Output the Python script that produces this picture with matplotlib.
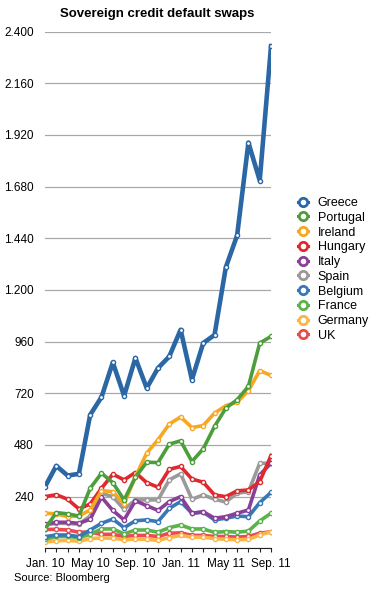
import matplotlib
matplotlib.use("Agg")
import matplotlib.pyplot as plt
from matplotlib.ticker import FuncFormatter, MultipleLocator
from matplotlib.lines import Line2D

plt.rcParams['font.family'] = ['Liberation Sans', 'DejaVu Sans']

# monthly, Jan. 10 .. Sep. 11
months = ["Jan. 10", "Feb. 10", "Mar. 10", "Apr. 10", "May 10", "Jun. 10", "Jul. 10",
          "Aug. 10", "Sep. 10", "Oct. 10", "Nov. 10", "Dec. 10", "Jan. 11", "Feb. 11",
          "Mar. 11", "Apr. 11", "May 11", "Jun. 11", "Jul. 11", "Aug. 11", "Sep. 11"]

greece   = [286, 383, 338, 346, 620, 702, 863, 708, 884, 744, 837, 891, 1015, 783,
            953, 991, 1305, 1453, 1884, 1708, 2332]
portugal = [90, 166, 160, 150, 279, 349, 305, 225, 330, 400, 398, 484, 499, 403,
            462, 566, 651, 690, 752, 953, 984]
ireland  = [163, 160, 147, 150, 178, 268, 263, 206, 333, 442, 504, 577, 610, 561,
            570, 628, 662, 679, 732, 825, 803]
hungary  = [240, 249, 228, 183, 206, 279, 344, 318, 352, 305, 284, 367, 380, 322,
            307, 248, 240, 267, 271, 310, 431]
italy    = [113, 121, 121, 116, 135, 238, 176, 132, 221, 198, 176, 217, 240, 163,
            170, 140, 147, 163, 178, 341, 395]
spain    = [108, 116, 116, 112, 150, 255, 240, 181, 225, 225, 225, 318, 346, 228,
            248, 228, 215, 256, 263, 395, 395]
belgium  = [54, 62, 62, 54, 85, 116, 136, 96, 128, 132, 124, 186, 217, 163,
            168, 132, 140, 150, 147, 212, 260]
france   = [42, 55, 55, 50, 65, 90, 90, 67, 85, 85, 75, 96, 108, 90,
            90, 74, 78, 75, 80, 127, 163]
germany  = [29, 35, 37, 33, 45, 48, 47, 40, 43, 42, 37, 50, 60, 52,
            52, 45, 42, 40, 42, 62, 77]
uk       = [88, 88, 85, 75, 75, 65, 65, 55, 60, 60, 55, 70, 72, 60,
            60, 55, 55, 52, 55, 70, 77]

series = [
    ("Greece", greece, "#2b67a4", 3.3),
    ("Portugal", portugal, "#4c9e3b", 2.6),
    ("Ireland", ireland, "#f7a823", 2.6),
    ("Hungary", hungary, "#de2a2e", 2.6),
    ("Italy", italy, "#8a3f98", 2.6),
    ("Spain", spain, "#9a9a9a", 2.6),
    ("Belgium", belgium, "#3978b5", 2.6),
    ("France", france, "#5cb34b", 2.6),
    ("Germany", germany, "#fbb544", 2.6),
    ("UK", uk, "#ea4a52", 2.6),
]

fig = plt.figure(figsize=(3.78, 5.91), dpi=100)
ax = fig.add_axes([0.119, 0.0722, 0.598, 0.8745])

x = list(range(len(months)))
# draw back to front so Greece ends on top
for name, vals, col, lw in reversed(series):
    ax.plot(x, vals, color=col, linewidth=lw, marker="o", markersize=3,
            markerfacecolor="white", markeredgecolor=col, markeredgewidth=1.0,
            solid_joinstyle="round", zorder=3)

ax.set_xlim(0, len(months) - 1)
ax.set_ylim(0, 2400)
ax.yaxis.set_major_locator(MultipleLocator(240))
ax.yaxis.set_major_formatter(FuncFormatter(
    lambda v, p: "" if v == 0 else f"{int(v):,}".replace(",", ".")))
ax.grid(axis="y", color="#a8a8a8", linewidth=0.9, zorder=0)
ax.set_axisbelow(True)

ax.set_xticks(x[::4])
ax.set_xticklabels(months[::4], fontsize=8.5)
ax.set_xticks(x, minor=True)
ax.tick_params(axis="x", which="both", direction="out", length=3, width=0.8,
               color="#222222", pad=4)
ax.tick_params(axis="y", length=0, pad=8, labelsize=8.5)

for s in ["top", "right", "left"]:
    ax.spines[s].set_visible(False)
ax.spines["bottom"].set_color("#222222")
ax.spines["bottom"].set_linewidth(0.8)

fig.text(0.415, 0.977, "Sovereign credit default swaps", ha="center", va="center",
         fontsize=9.5, fontweight="bold")
fig.text(0.037, 0.022, "Source: Bloomberg", ha="left", va="center", fontsize=8)

leg_h = [Line2D([0], [0], color=s[2], linewidth=2.2, marker="o", markersize=6,
                markerfacecolor="white", markeredgecolor=s[2], markeredgewidth=2)
         for s in series]
fig.legend(leg_h, [s[0] for s in series], loc="upper left",
           bbox_to_anchor=(0.776, 0.675), frameon=False, fontsize=9,
           handlelength=0.8, handletextpad=0.75, labelspacing=0.22,
           borderaxespad=0)

fig.savefig("out.png", dpi=100)
